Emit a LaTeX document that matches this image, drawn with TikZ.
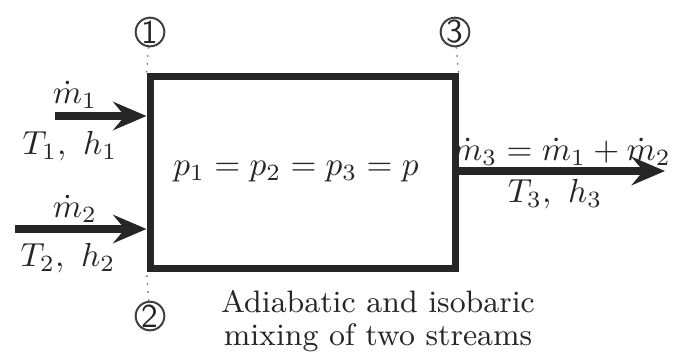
\documentclass[tikz,border=0pt]{standalone}
\usetikzlibrary{arrows.meta}

\begin{document}
\begin{tikzpicture}[
  x=0.3pt, y=-0.3pt,
  every node/.style={inner sep=1pt, text=black!85},
  chamber/.style={draw=black!85, line width=2.1pt, minimum width=91.5pt, minimum height=57.6pt, inner sep=0pt},
  station/.style={circle, draw=black!75, line width=0.6pt, minimum size=8.6pt, inner sep=0pt, font=\sffamily},
  flow/.style={draw=black!85, line width=2.2pt, -{Stealth[length=10pt, width=8.5pt, inset=3.5pt]}},
  guide/.style={draw=black!60, line width=0.4pt, dotted}]

  \useasboundingbox (0,0) rectangle (678,352);

  % mixing chamber
  \node[chamber] (box) at (302.5,172) {};
  \node (press) at (296,172) {$p_1 = p_2 = p_3 = p$};

  % state points
  \node[station] (s1) at (150,32)  {1};
  \node[station] (s2) at (150,316) {2};
  \node[station] (s3) at (455,32)  {3};
  \draw[guide] (s1) -- (box.north west);
  \draw[guide] (s2) -- (box.south west);
  \draw[guide] (s3) -- (box.north east);

  % streams
  \coordinate (in1)  at (55,116);
  \coordinate (in2)  at (15,229);
  \coordinate (out3) at (665,171);
  \draw[flow] (in1) -- (in1 -| box.west);
  \draw[flow] (in2) -- (in2 -| box.west);
  \draw[flow] (box.east |- out3) -- (out3);

  % stream labels
  \node (m1) at (75,95)   {$\dot m_1$};
  \node (t1) at (70,146)  {$T_1,\ h_1$};
  \node (m2) at (75,209)  {$\dot m_2$};
  \node (t2) at (68,258)  {$T_2,\ h_2$};
  \node (m3) at (562,152) {$\dot m_3 = \dot m_1 + \dot m_2$};
  \node (t3) at (555,194) {$T_3,\ h_3$};

  % caption
  \node[align=center, font=\fontsize{9.3}{10}\selectfont] (cap) at (378,321) {Adiabatic and isobaric\\ mixing of two streams};
\end{tikzpicture}
\end{document}
